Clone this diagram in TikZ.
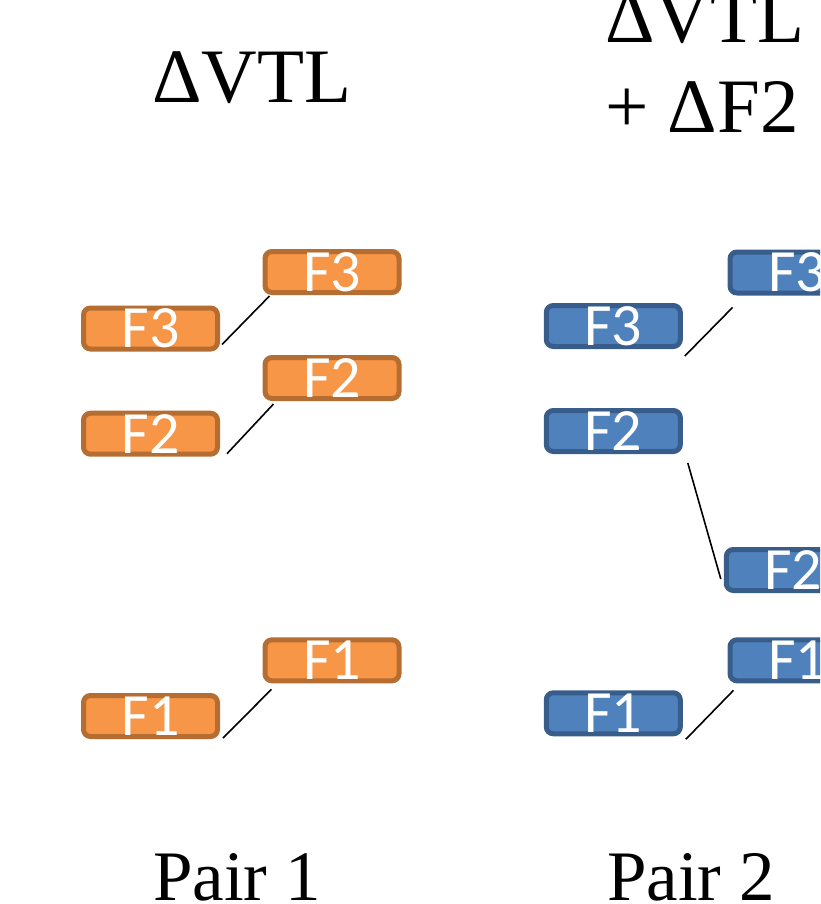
\documentclass[tikz,border=0pt]{standalone}
\usepackage{fontspec}
\setmainfont{Liberation Serif}
\newfontfamily\boxfont{Carlito}
\usetikzlibrary{calc}
\definecolor{orfill}{HTML}{F79646}
\definecolor{ordraw}{HTML}{B66D31}
\definecolor{blfill}{HTML}{4F81BD}
\definecolor{bldraw}{HTML}{385D8A}
\tikzset{
 fbox/.style={rounded corners=7pt, line width=5pt, minimum width=134pt, minimum height=41pt, inner sep=0pt, text=white, font=\boxfont\fontsize{60}{60}\selectfont},
 orbox/.style={fbox, fill=orfill, draw=ordraw},
 blbox/.style={fbox, fill=blfill, draw=bldraw},
 link/.style={line width=1.6pt, black},
 title/.style={font=\fontsize{77}{90}\selectfont, inner sep=0pt},
 pairlbl/.style={font=\fontsize{71}{80}\selectfont, inner sep=0pt}
}
\begin{document}
\begin{tikzpicture}[x=1pt,y=-1pt]
\useasboundingbox (0,0) rectangle (820,904);
\clip (0,0) rectangle (820,904);
% titles
\node[title, anchor=base] (t1) at (252,102.7) {ΔVTL};
\node[title, anchor=base west] (t2a) at (605,43) {ΔVTL};
\node[title, anchor=base west] (t2b) at (605,132.7) {+ ΔF2};
\node[pairlbl, anchor=base] (p1) at (237,900) {Pair 1};
\node[pairlbl, anchor=base] (p2) at (691,900) {Pair 2};
% orange boxes
\node[orbox] (oF3L) at (150.5,328.5) {F3};
\node[orbox] (oF3R) at (332,272) {F3};
\node[orbox] (oF2L) at (150.5,433.7) {F2};
\node[orbox] (oF2R) at (332,378) {F2};
\node[orbox] (oF1L) at (150.5,716) {F1};
\node[orbox] (oF1R) at (332,660.3) {F1};
% blue boxes
\node[blbox] (bF3L) at (613.3,326) {F3};
\node[blbox] (bF3R) at (797,272.5) {F3};
\node[blbox] (bF2L) at (613.3,431) {F2};
\node[blbox] (bF2R) at (793.3,570) {F2};
\node[blbox] (bF1L) at (613.3,713.3) {F1};
\node[blbox] (bF1R) at (797,660.3) {F1};
% links
\draw[link] ($(oF3L.south east)+(2,-7)$) -- ($(oF3R.south west)+(7,1)$);
\draw[link] ($(oF2L.south east)+(7,-3)$) -- ($(oF2R.south west)+(11,3)$);
\draw[link] ($(oF1L.south east)+(3,-1)$) -- ($(oF1R.south west)+(9,6)$);
\draw[link] ($(bF3L.south east)+(2,7)$) -- ($(bF3R.south west)+(5,12)$);
\draw[link] ($(bF2L.south east)+(5,9)$) -- ($(bF2R.south west)+(-3,-14)$);
\draw[link] ($(bF1L.south east)+(3,3)$) -- ($(bF1R.south west)+(6,7)$);
\end{tikzpicture}
\end{document}
